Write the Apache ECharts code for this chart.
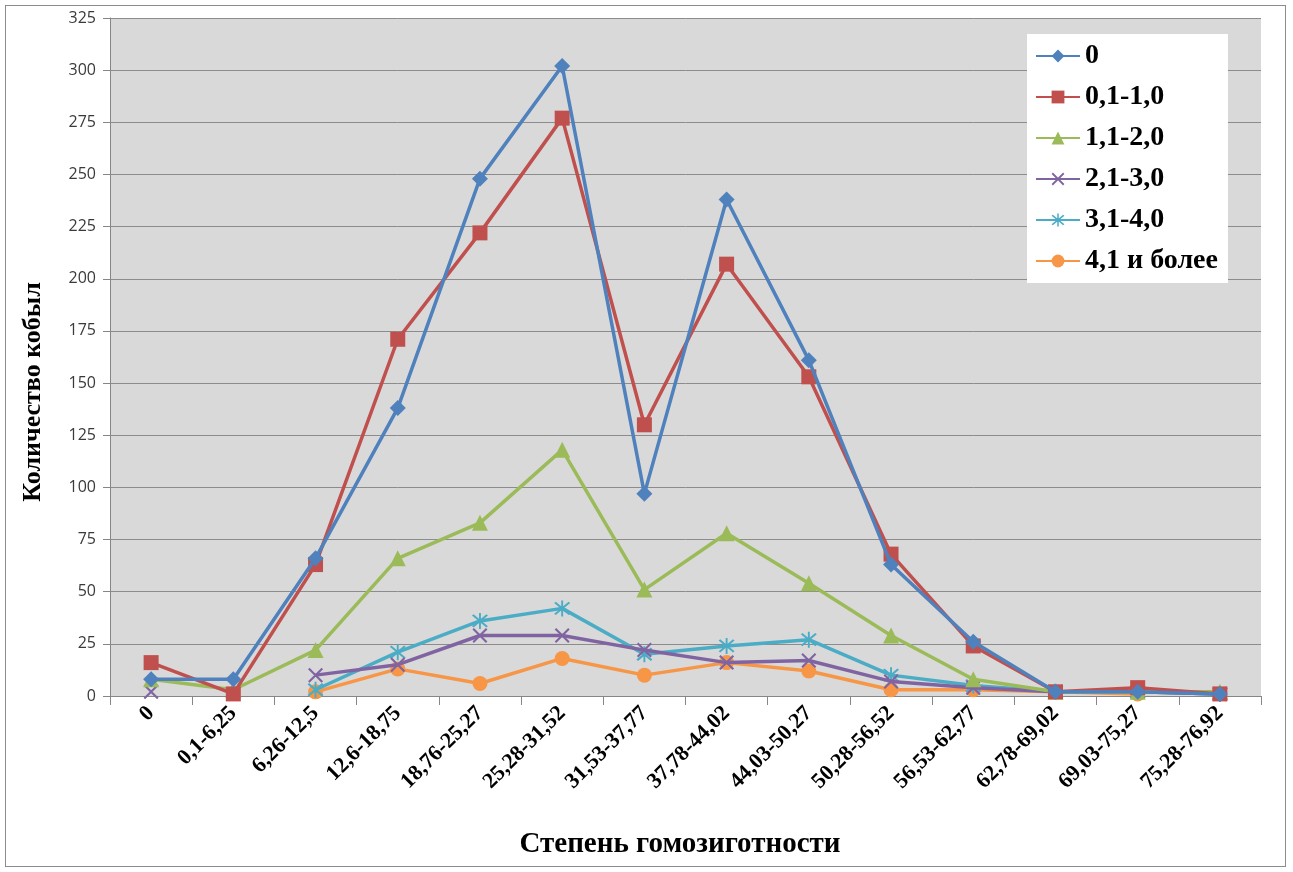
<!DOCTYPE html>
<html>
<head>
<meta charset="utf-8">
<script src="https://cdn.jsdelivr.net/npm/echarts@6/dist/echarts.min.js"></script>
<style>
  html, body { margin: 0; padding: 0; background: #ffffff; }
  #frame { position: absolute; left: 5px; top: 5px; width: 1279px; height: 860px; border: 1px solid #8c8c8c; }
  #chart { position: absolute; left: 0; top: 0; width: 1293px; height: 872px; }
</style>
</head>
<body>
<div id="frame"></div>
<div id="chart"></div>
<script>
// Degree of homozygosity classes (x axis)
const categories = ['0', '0,1-6,25', '6,26-12,5', '12,6-18,75', '18,76-25,27', '25,28-31,52',
  '31,53-37,77', '37,78-44,02', '44,03-50,27', '50,28-56,52', '56,53-62,77',
  '62,78-69,02', '69,03-75,27', '75,28-76,92'];

// Number of mares per inbreeding group
const seriesNames = ['0', '0,1-1,0', '1,1-2,0', '2,1-3,0', '3,1-4,0', '4,1 и более'];
const s0    = [8, 8, 66, 138, 248, 302, 97, 238, 161, 63, 26, 2, 2, 1];
const s01   = [16, 1, 63, 171, 222, 277, 130, 207, 153, 68, 24, 2, 4, 1];
const s11   = [8, 3, 22, 66, 83, 118, 51, 78, 54, 29, 8, 2, 2, 2];
const s21   = [2, null, 10, 15, 29, 29, 22, 16, 17, 7, 4, 2, 2, 1];
const s31   = [null, null, 3, 21, 36, 42, 20, 24, 27, 10, 5, 2, 2, 1];
const s41   = [null, null, 2, 13, 6, 18, 10, 16, 12, 3, 3, 2, 1, null];

const yTicks = { min: 0, max: 325, interval: 25 };

const xTitle = 'Степень гомозиготности';
const yTitle = 'Количество кобыл';

const colors = ['#4F81BD', '#C0504D', '#9BBB59', '#8064A2', '#4BACC6', '#F79646'];
const crossPath = 'path://M0,1 L1,0 L10,9 L9,10 Z M9,0 L10,1 L1,10 L0,9 Z';
const starPath = 'path://M0,1 L1,0 L10,9 L9,10 Z M9,0 L10,1 L1,10 L0,9 Z M4.4,-1 L5.6,-1 L5.6,11 L4.4,11 Z';
const symbols = ['diamond', 'rect', 'triangle', crossPath, starPath, 'circle'];
const symbolSizes = [16, 15, 16, 15, 16, 15];
const dataSets = [s0, s01, s11, s21, s31, s41];

const serif = 'Liberation Serif';

const chart = echarts.init(document.getElementById('chart'));
chart.setOption({
  animation: false,
  color: colors,
  grid: { left: 110, right: 32, top: 18, bottom: 176, show: true, backgroundColor: '#d9d9d9', borderWidth: 0 },
  legend: {
    orient: 'vertical',
    left: 1027,
    top: 34,
    backgroundColor: '#ffffff',
    padding: [8, 10, 8, 8],
    itemGap: 13,
    itemWidth: 44,
    itemHeight: 16,
    textStyle: { fontFamily: serif, fontWeight: 'bold', fontSize: 28, color: '#000' },
    data: seriesNames
  },
  graphic: [
    {
      type: 'text', x: 680, y: 845,
      style: { text: xTitle, fontFamily: serif, fontWeight: 'bold', fontSize: 29, fill: '#000',
        align: 'center', verticalAlign: 'middle' }
    },
    {
      type: 'text', x: 33, y: 392, rotation: Math.PI / 2,
      style: { text: yTitle, fontFamily: serif, fontWeight: 'bold', fontSize: 26, fill: '#000',
        align: 'center', verticalAlign: 'middle' }
    }
  ],
  xAxis: {
    type: 'category',
    data: categories,
    boundaryGap: true,
    axisLine: { lineStyle: { color: '#868686', width: 1 } },
    axisTick: { show: true, length: 9, lineStyle: { color: '#868686' } },
    axisLabel: {
      rotate: 45, margin: 14, interval: 0,
      fontFamily: serif, fontWeight: 'bold', fontSize: 22, color: '#000'
    }
  },
  yAxis: {
    type: 'value',
    min: yTicks.min, max: yTicks.max, interval: yTicks.interval,
    axisLine: { show: true, lineStyle: { color: '#868686' } },
    axisTick: { show: true, length: 7, lineStyle: { color: '#868686' } },
    splitLine: { lineStyle: { color: '#8c8c8c', width: 1 } },
    axisLabel: { fontFamily: 'Open Sans', fontSize: 16, color: '#3a3a3a', margin: 14 }
  },
  series: seriesNames.map((name, i) => ({
    name: name,
    type: 'line',
    data: dataSets[i],
    symbol: symbols[i],
    symbolSize: symbolSizes[i],
    connectNulls: false,
    lineStyle: { width: 3.5, color: colors[i] },
    itemStyle: { color: colors[i] },
    z: 10 - i
  }))
});
</script>
</body>
</html>
